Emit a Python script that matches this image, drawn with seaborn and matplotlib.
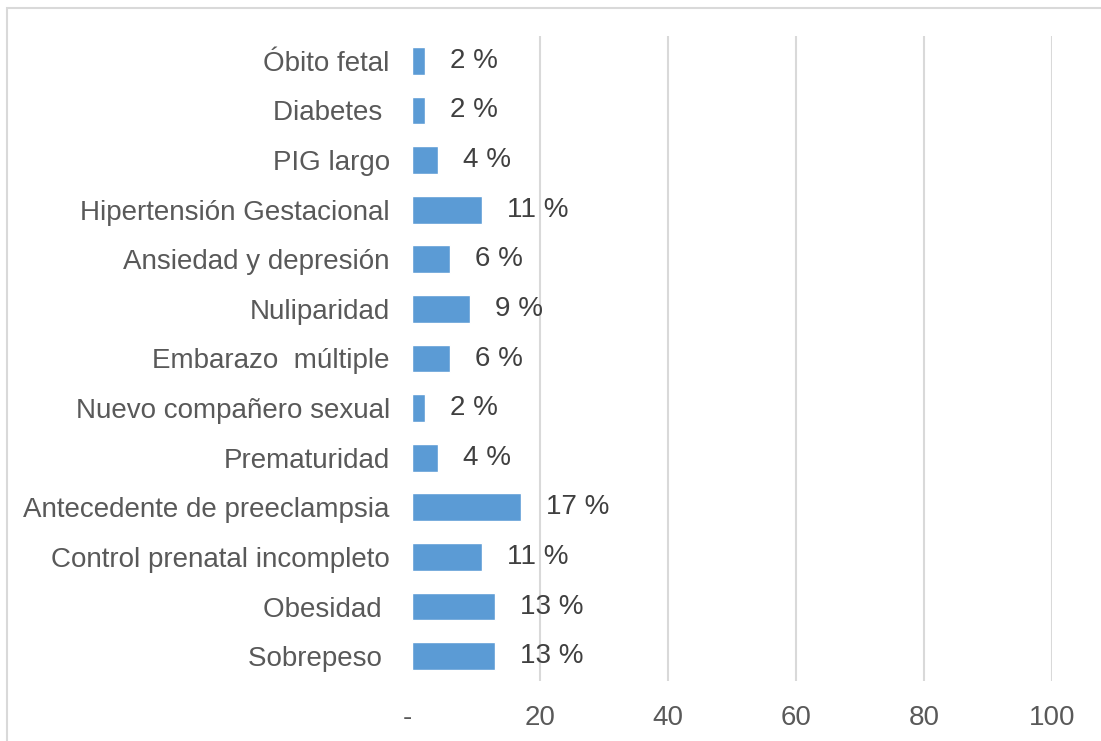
import pandas as pd
import matplotlib.pyplot as plt
import seaborn as sns
from matplotlib.patches import Rectangle

categories = [
    "Óbito fetal", "Diabetes ", "PIG largo", "Hipertensión Gestacional",
    "Ansiedad y depresión", "Nuliparidad", "Embarazo  múltiple",
    "Nuevo compañero sexual", "Prematuridad", "Antecedente de preeclampsia",
    "Control prenatal incompleto", "Obesidad ", "Sobrepeso ",
]
values = [2, 2, 4, 11, 6, 9, 6, 2, 4, 17, 11, 13, 13]
labels = ["2 %", "2 %", "4 %", "11 %", "6 %", "9 %", "6 %", "2 %", "4 %",
          "17 %", "11 %", "13 %", "13 %"]
xticks = [0, 20, 40, 60, 80, 100]
xticklabels = ["-", "20", "40", "60", "80", "100"]

df = pd.DataFrame({"factor": categories, "pct": values})

sns.set_theme(style="white")
plt.rcParams["font.family"] = ["Liberation Sans", "DejaVu Sans"]

fig = plt.figure(figsize=(11.01, 7.41), dpi=100)
ax = fig.add_axes([412 / 1101, 1 - 681 / 741, 640 / 1101, 645 / 741])

sns.barplot(data=df, x="pct", y="factor", orient="h", color="#5B9BD5",
            saturation=1, width=0.56, ax=ax, zorder=3)

ax.set_xlim(0, 100)
ax.set_ylim(len(categories) - 0.5, -0.5)
ax.set_xticks(xticks)
ax.set_xticklabels(xticklabels)
ax.set_xlabel("")
ax.set_ylabel("")
for x in xticks[1:]:
    ax.axvline(x, color="#D9D9D9", lw=1.5, zorder=1)

ax.tick_params(axis="y", length=0, pad=16, labelsize=20, labelcolor="#595959")
ax.tick_params(axis="x", length=0, pad=17, labelsize=20, labelcolor="#595959")
ax.get_xticklabels()[0].set_ha("right")
for s in ax.spines.values():
    s.set_visible(False)

ax.bar_label(ax.containers[0], labels=labels, padding=18, fontsize=20,
             color="#404040")

# outer chart frame (partly cropped in the original)
fig.patches.append(Rectangle((7 / 1101, -0.1), 1.2, 1 - 8 / 741 + 0.1,
                             transform=fig.transFigure, fill=False,
                             edgecolor="#D9D9D9", lw=1.5))

fig.savefig("out.png", dpi=100)
